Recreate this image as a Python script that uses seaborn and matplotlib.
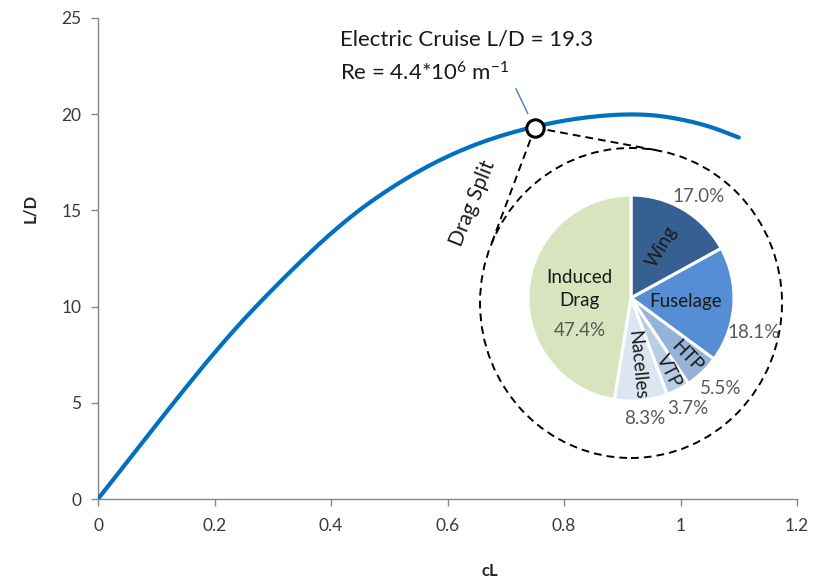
import numpy as np
import pandas as pd
import matplotlib
matplotlib.use("Agg")
import matplotlib.pyplot as plt
import seaborn as sns
from matplotlib.patches import Ellipse

# Lift-to-drag polar of the electric aircraft
cl_values = [0.00, 0.05, 0.10, 0.15, 0.20, 0.25, 0.30, 0.35, 0.40, 0.45, 0.50,
             0.55, 0.60, 0.65, 0.70, 0.75, 0.80, 0.85, 0.90, 0.95, 1.00, 1.05, 1.10]
ld_values = [0.00, 1.93, 3.86, 5.76, 7.60, 9.32, 10.90, 12.40, 13.80, 15.04, 16.10,
             17.02, 17.80, 18.44, 18.95, 19.35, 19.66, 19.87, 19.98, 19.95, 19.73, 19.35, 18.79]

# Cruise point
cruise_cl = 0.75
cruise_ld = 19.3

# Drag breakdown at cruise
drag_parts = ["Wing", "Fuselage", "HTP", "VTP", "Nacelles", "Induced\nDrag"]
drag_share = [17.0, 18.1, 5.5, 3.7, 8.3, 47.4]
drag_colors = ["#376092", "#558ED5", "#95B3D7", "#B9CDE5", "#DCE6F2", "#D7E4BD"]

x_ticks = [0, 0.2, 0.4, 0.6, 0.8, 1.0, 1.2]
x_tick_labels = ["0", "0.2", "0.4", "0.6", "0.8", "1", "1.2"]
y_ticks = [0, 5, 10, 15, 20, 25]
y_tick_labels = ["0", "5", "10", "15", "20", "25"]


def smooth_line(xs, ys, n=12):
    """Catmull-Rom smoothing through the given points (spreadsheet style)."""
    x = np.asarray(xs, float)
    y = np.asarray(ys, float)
    xp = np.concatenate([[2 * x[0] - x[1]], x, [2 * x[-1] - x[-2]]])
    yp = np.concatenate([[2 * y[0] - y[1]], y, [2 * y[-1] - y[-2]]])
    out_x, out_y = [x[0]], [y[0]]
    t = np.linspace(0, 1, n + 1)[1:]
    for i in range(1, len(xp) - 2):
        for arr, out in ((xp, out_x), (yp, out_y)):
            p0, p1, p2, p3 = arr[i - 1], arr[i], arr[i + 1], arr[i + 2]
            out.extend(0.5 * ((2 * p1) + (-p0 + p2) * t
                              + (2 * p0 - 5 * p1 + 4 * p2 - p3) * t ** 2
                              + (-p0 + 3 * p1 - 3 * p2 + p3) * t ** 3))
    return np.array(out_x), np.array(out_y)


sns.set_style("ticks")
plt.rcParams["font.family"] = ["Lato", "DejaVu Sans"]
plt.rcParams["mathtext.default"] = "regular"

W, H = 816, 581
fig = plt.figure(figsize=(W / 100, H / 100), dpi=100)

# overlay in pixel units for the pie inset and guide lines
ov = fig.add_axes([0, 0, 1, 1], zorder=1)
ov.set_xlim(0, W)
ov.set_ylim(0, H)
ov.axis("off")

ax = fig.add_axes([98 / W, 1 - 499 / H, (797 - 98) / W, (499 - 18) / H], zorder=2)
ax.patch.set_alpha(0)

sx, sy_ = smooth_line(cl_values, ld_values)
df = pd.DataFrame({"cL": sx, "L/D": sy_})
sns.lineplot(data=df, x="cL", y="L/D", ax=ax, color="#0070C0", linewidth=3.0,
             zorder=3, sort=False, estimator=None)
ax.plot([cruise_cl], [cruise_ld], marker="o", ms=12.5, mfc="white", mec="black",
        mew=2.2, zorder=5, linestyle="none")

ax.set_xlim(0, 1.2)
ax.set_ylim(0, 25)
ax.set_xticks(x_ticks)
ax.set_xticklabels(x_tick_labels)
ax.set_yticks(y_ticks)
ax.set_yticklabels(y_tick_labels)
for side in ["top", "right"]:
    ax.spines[side].set_visible(False)
for side in ["left", "bottom"]:
    ax.spines[side].set_color("#868686")
    ax.spines[side].set_linewidth(1.0)
ax.tick_params(axis="both", direction="out", length=5, width=1.0, color="#868686",
               labelsize=12.5, labelcolor="#3a3a3a")
ax.tick_params(axis="x", pad=9)
ax.tick_params(axis="y", pad=7)

ax.set_xlabel("cL", fontsize=12, fontweight="bold", color="#262626")
ax.set_ylabel("L/D", fontsize=12, fontweight="bold", color="#262626")
ax.xaxis.set_label_coords((490 - 98) / 699, -(571 - 499) / 481)
ax.xaxis.label.set_va("center")
ax.yaxis.set_label_coords(-(98 - 30) / 699, (499 - 208) / 481)
ax.yaxis.label.set_va("center")

fig.canvas.draw()

# cruise point in overlay pixel units
p = ov.transData.inverted().transform(ax.transData.transform((cruise_cl, cruise_ld)))

# dashed ring around the inset
ring_c = np.array([631.0, H - 303.0])
ring_rx, ring_ry = 151.0, 155.0
ov.add_patch(Ellipse(ring_c, 2 * ring_rx, 2 * ring_ry, fill=False, edgecolor="black",
                     linewidth=1.4, linestyle=(0, (4, 2.6))))

# tangent lines from the cruise point to the ring
sy = ring_rx / ring_ry
q = np.array([p[0] - ring_c[0], (p[1] - ring_c[1]) * sy])
d = np.hypot(*q)
base = np.arctan2(q[1], q[0])
alpha = np.arccos(ring_rx / d)
for sgn in (1, -1):
    a = base + sgn * alpha
    t = np.array([ring_c[0] + ring_rx * np.cos(a), ring_c[1] + ring_rx * np.sin(a) / sy])
    ov.plot([p[0], t[0]], [p[1], t[1]], color="black", linewidth=1.4,
            linestyle=(0, (4, 2.6)), zorder=2)

# pie of the drag split
pie_c = (631.0, H - 298.0)
pie_r = 103.0
ov.pie(drag_share, colors=drag_colors, startangle=90, counterclock=False,
       center=pie_c, radius=pie_r, frame=True,
       wedgeprops=dict(edgecolor="white", linewidth=2.2))
ov.set_xlim(0, W)
ov.set_ylim(0, H)
ov.set_aspect("auto")
ov.axis("off")

# label layout per slice: name radius, name rotation flag, value radius, value angle nudge
name_r = [0.58, 0.53, 0.78, 0.80, 0.65, 0.50]
name_rot = [True, False, True, True, True, False]
val_r = [1.18, 1.24, 1.24, 1.21, 1.18, None]
val_nudge = [-3, -12, 1, 0, 1, 0]

cum = 0.0
for name, share, nr, rot, vr, nud in zip(drag_parts, drag_share, name_r, name_rot,
                                         val_r, val_nudge):
    mid = 90 - 3.6 * (cum + share / 2)
    cum += share
    m = np.deg2rad(mid)
    nx = pie_c[0] + nr * pie_r * np.cos(m)
    ny = pie_c[1] + nr * pie_r * np.sin(m)
    label = f"{share:.1f}%"
    if vr is None:
        ov.text(nx, ny + 5, name, ha="center", va="center", fontsize=13.5,
                color="#1a1a1a", linespacing=1.45)
        ov.text(nx, ny - 37, label, ha="center", va="center", fontsize=13.5,
                color="#595959")
        continue
    ov.text(nx, ny, name, ha="center", va="center", fontsize=13.5, color="#1a1a1a",
            rotation=mid if rot else 0, rotation_mode="anchor")
    v = np.deg2rad(mid + nud)
    ov.text(pie_c[0] + vr * pie_r * np.cos(v), pie_c[1] + vr * pie_r * np.sin(v),
            label, ha="center", va="center", fontsize=13.5, color="#595959")

# annotation of the cruise point
ov.plot([p[0] - 7, p[0] - 19], [p[1] + 14, p[1] + 39], color="#4A7EBB", linewidth=1.0)
ov.text(340, H - 40, f"Electric Cruise L/D = {cruise_ld}", ha="left", va="center",
        fontsize=16, color="#1a1a1a")
ov.text(340, H - 73, "Re = 4.4*10$^{6}$ m$^{-1}$", ha="left", va="center",
        fontsize=16, color="#1a1a1a")
ov.text(473, H - 203, "Drag Split", ha="center", va="center", fontsize=15,
        rotation=68, rotation_mode="anchor", color="#1a1a1a")

fig.savefig("out.png", dpi=100)
